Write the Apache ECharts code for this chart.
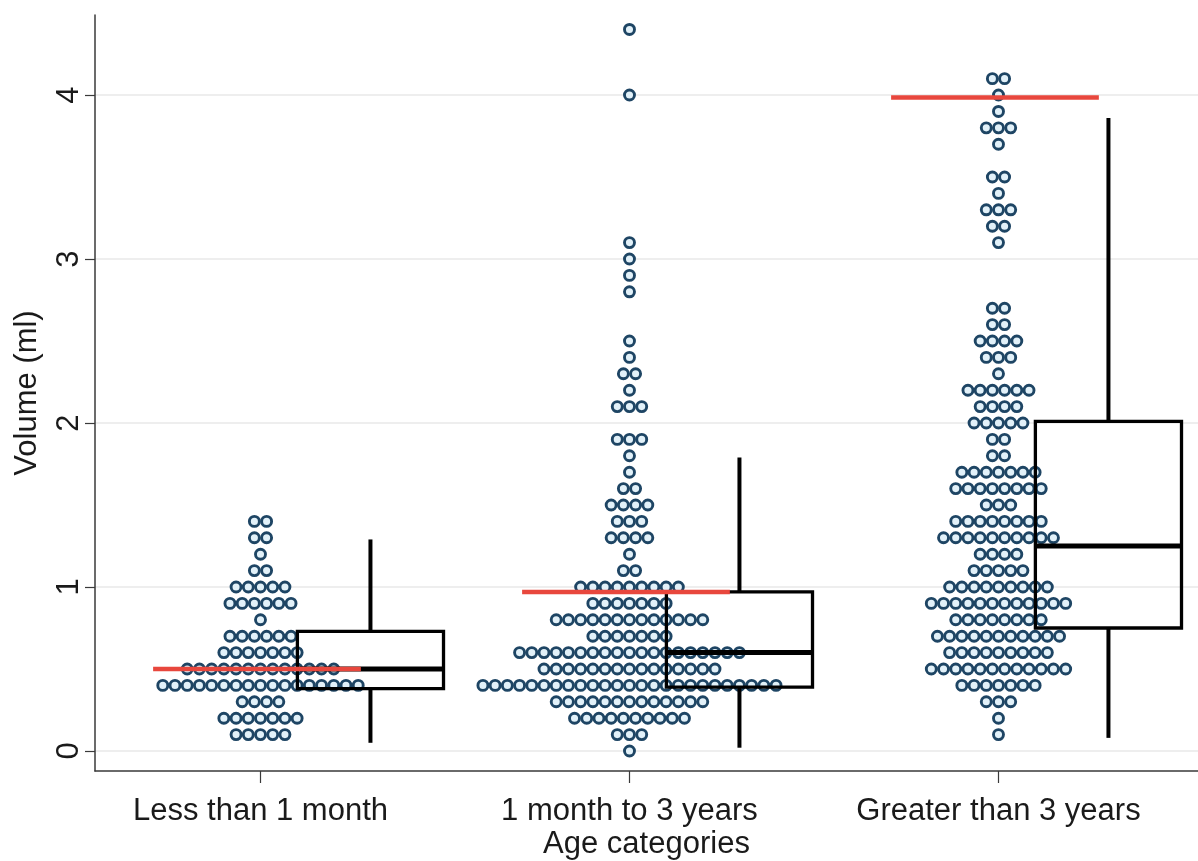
<!DOCTYPE html>
<html><head><meta charset="utf-8">
<script src="https://cdn.jsdelivr.net/npm/echarts@6/dist/echarts.min.js"></script>
<style>html,body{margin:0;padding:0;background:#fff}#c{width:1198px;height:861px}</style>
</head><body><div id="c"></div>
<script>
// ---------- data ----------
const categories = ['Less than 1 month', '1 month to 3 years', 'Greater than 3 years'];
const yTicks = [0, 1, 2, 3, 4];

// dot plot rows: value level and number of observations at that level
const g1Levels = [0.1, 0.2, 0.3, 0.4, 0.5, 0.6, 0.7, 0.8, 0.9, 1.0, 1.1, 1.2, 1.3, 1.4];
const g1Counts = [5, 7, 4, 17, 13, 7, 6, 1, 6, 5, 2, 1, 2, 2];

const g2Levels = [0.0, 0.1, 0.2, 0.3, 0.4, 0.5, 0.6, 0.7, 0.8, 0.9, 1.0, 1.1, 1.2, 1.3, 1.4, 1.5, 1.6, 1.7, 1.8, 1.9, 2.1, 2.2, 2.3, 2.4, 2.5, 2.8, 2.9, 3.0, 3.1, 4.0, 4.4];
const g2Counts = [1, 3, 10, 13, 25, 15, 19, 7, 13, 7, 9, 2, 1, 4, 3, 4, 2, 1, 1, 3, 3, 1, 2, 1, 1, 1, 1, 1, 1, 1, 1];

const g3Levels = [0.1, 0.2, 0.3, 0.4, 0.5, 0.6, 0.7, 0.8, 0.9, 1.0, 1.1, 1.2, 1.3, 1.4, 1.5, 1.6, 1.7, 1.8, 1.9, 2.0, 2.1, 2.2, 2.3, 2.4, 2.5, 2.6, 2.7, 3.1, 3.2, 3.3, 3.4, 3.5, 3.7, 3.8, 3.9, 4.0, 4.1];
const g3Counts = [1, 1, 3, 7, 12, 9, 11, 8, 12, 9, 5, 4, 10, 8, 3, 8, 7, 2, 2, 5, 4, 6, 1, 3, 4, 2, 2, 1, 2, 3, 1, 2, 1, 3, 1, 1, 2];

// box plot statistics per category
const boxLow    = [0.05, 0.02, 0.08];
const boxQ1     = [0.38, 0.39, 0.75];
const boxMedian = [0.50, 0.60, 1.25];
const boxQ3     = [0.73, 0.97, 2.01];
const boxHigh   = [1.29, 1.79, 3.86];

// red reference lines
const refValues = [0.50, 0.97, 3.985];

// ---------- layout constants ----------
const DOT_STEP = 0.0331;      // horizontal spacing between dots (x units)
const BOX_OFFSET = 0.298;     // box centre offset from category centre
const BOX_W = 0.396;          // box width (x units)
const REF_L = -0.291, REF_R = 0.272;
const FONT = "'Liberation Sans', Arial, sans-serif";

function dotsFor(gIndex, levels, counts) {
  const pts = [];
  levels.forEach((v, k) => {
    const n = counts[k];
    for (let i = 0; i < n; i++) pts.push([gIndex + 1 + (i - (n - 1) / 2) * DOT_STEP, v]);
  });
  return pts;
}
const groups = [[g1Levels, g1Counts], [g2Levels, g2Counts], [g3Levels, g3Counts]];

const boxData = categories.map((c, i) => [i + 1, boxLow[i], boxQ1[i], boxMedian[i], boxQ3[i], boxHigh[i]]);
const refData = categories.map((c, i) => [i + 1, refValues[i]]);

const chart = echarts.init(document.getElementById('c'), null, {renderer: 'canvas'});

const dotSeries = groups.map((g, i) => ({
  type: 'scatter',
  data: dotsFor(i, g[0], g[1]),
  symbol: 'circle',
  symbolSize: 10,
  silent: true,
  z: 2,
  itemStyle: {color: '#e2f1f9', borderColor: '#1e4564', borderWidth: 2.9, opacity: 1}
}));

const option = {
  animation: false,
  backgroundColor: '#fff',
  grid: {left: 95, right: 0, top: 15, bottom: 90, containLabel: false, outerBoundsMode: 'none'},
  xAxis: {
    type: 'value',
    min: 0.5515, max: 3.5407,
    name: 'Age categories',
    nameLocation: 'middle',
    nameGap: 58,
    nameMoveOverlap: false,
    nameTextStyle: {fontFamily: FONT, fontSize: 31, color: '#1a1a1a'},
    axisLine: {show: true, onZero: false, lineStyle: {color: '#3a3a3a', width: 1.5}},
    axisTick: {show: true, length: 12, customValues: [1, 2, 3], lineStyle: {color: '#3a3a3a', width: 1.2}},
    axisLabel: {
      customValues: [1, 2, 3],
      margin: 25,
      fontFamily: FONT, fontSize: 31, color: '#1a1a1a',
      formatter: v => categories[Math.round(v) - 1]
    },
    splitLine: {show: false}
  },
  yAxis: {
    type: 'value',
    min: -0.122, max: 4.488,
    name: 'Volume (ml)',
    nameLocation: 'middle',
    nameGap: 52,
    nameTextStyle: {fontFamily: FONT, fontSize: 31, color: '#1a1a1a'},
    axisLine: {show: true, onZero: false, lineStyle: {color: '#3a3a3a', width: 1.5}},
    axisTick: {show: true, length: 10, customValues: yTicks, lineStyle: {color: '#3a3a3a', width: 1.2}},
    axisLabel: {
      customValues: yTicks,
      rotate: 90,
      margin: 10,
      fontFamily: FONT, fontSize: 31, color: '#1a1a1a'
    },
    splitLine: {show: true, lineStyle: {color: '#e9e9e9', width: 1.5}}
  },
  series: [
    ...dotSeries,
    {
      type: 'custom',
      data: boxData,
      z: 3,
      silent: true,
      renderItem: (params, api) => {
        const xc = api.value(0) + BOX_OFFSET;
        const l = api.coord([xc - BOX_W / 2, api.value(3)]);
        const r = api.coord([xc + BOX_W / 2, api.value(3)]);
        const pLow = api.coord([xc, api.value(1)]);
        const pQ1 = api.coord([xc, api.value(2)]);
        const pMed = api.coord([xc, api.value(3)]);
        const pQ3 = api.coord([xc, api.value(4)]);
        const pHigh = api.coord([xc, api.value(5)]);
        const stroke = '#000';
        return {
          type: 'group',
          children: [
            {type: 'line', shape: {x1: pQ3[0], y1: pHigh[1], x2: pQ3[0], y2: pQ3[1]}, style: {stroke, lineWidth: 4}},
            {type: 'line', shape: {x1: pQ1[0], y1: pQ1[1], x2: pQ1[0], y2: pLow[1]}, style: {stroke, lineWidth: 4}},
            {type: 'rect', shape: {x: l[0], y: pQ3[1], width: r[0] - l[0], height: pQ1[1] - pQ3[1]}, style: {fill: 'none', stroke, lineWidth: 3.3}},
            {type: 'line', shape: {x1: l[0], y1: pMed[1], x2: r[0], y2: pMed[1]}, style: {stroke, lineWidth: 5}}
          ]
        };
      }
    },
    {
      type: 'custom',
      data: refData,
      z: 4,
      silent: true,
      renderItem: (params, api) => {
        const g = api.value(0), v = api.value(1);
        const a = api.coord([g + REF_L, v]);
        const b = api.coord([g + REF_R, v]);
        return {type: 'line', shape: {x1: a[0], y1: a[1], x2: b[0], y2: b[1]}, style: {stroke: '#e8473d', lineWidth: 4.5}};
      }
    }
  ]
};
chart.setOption(option);
</script>
</body></html>
